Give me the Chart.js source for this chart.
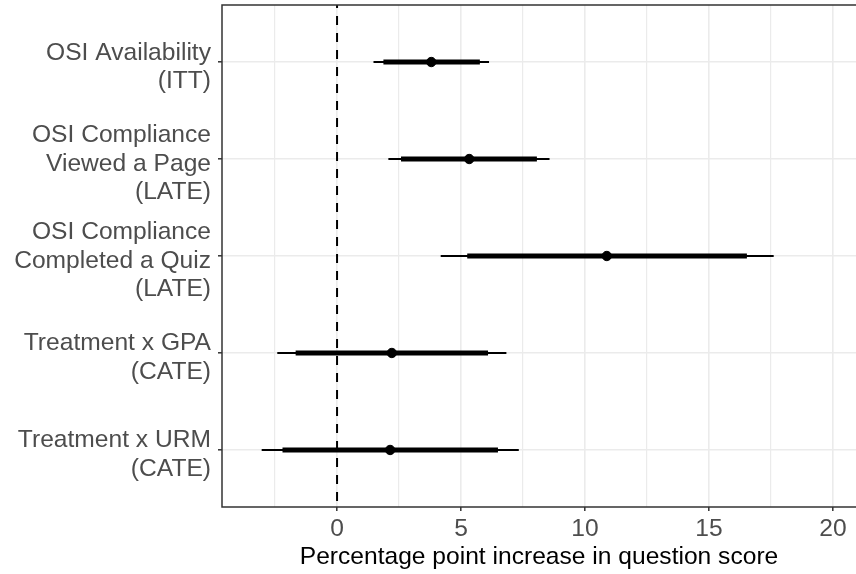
<!DOCTYPE html>
<html>
<head>
<meta charset="utf-8">
<script src="https://cdn.jsdelivr.net/npm/chart.js@4.4.1/dist/chart.umd.min.js"></script>
<style>
  html, body { margin: 0; padding: 0; background: #fff; }
  #wrap { width: 856px; height: 574px; }
</style>
</head>
<body>
<div id="wrap"><canvas id="myChart"></canvas></div>
<script>
// righe del grafico (dall'alto in basso)
const etichette = [
  ["OSI Availability", "(ITT)"],
  ["OSI Compliance", "Viewed a Page", "(LATE)"],
  ["OSI Compliance", "Completed a Quiz", "(LATE)"],
  ["Treatment x GPA", "(CATE)"],
  ["Treatment x URM", "(CATE)"],
];
const stima = [3.80, 5.33, 10.88, 2.21, 2.14];
const internoMin = [1.87, 2.58, 5.25, -1.67, -2.20];
const internoMax = [5.76, 8.06, 16.53, 6.09, 6.49];
const esternoMin = [1.47, 2.07, 4.18, -2.41, -3.04];
const esternoMax = [6.13, 8.57, 17.61, 6.83, 7.33];
const tickX = [-2.5, 0, 2.5, 5, 7.5, 10, 12.5, 15, 17.5, 20];
const etichetteX = [0, 5, 10, 15, 20];

const font = "'Liberation Sans', Arial, Helvetica, sans-serif";

// segmenti orizzontali, separati da un punto vuoto
function segmenti(min, max) {
  return min.flatMap((lo, i) => [
    { x: lo, y: i + 1 },
    { x: max[i], y: i + 1 },
    { x: NaN, y: NaN },
  ]);
}

const punti = stima.map((v, i) => ({ x: v, y: i + 1 }));

// bordo del pannello (sopra, sinistra, sotto)
const bordoPannello = {
  id: "bordoPannello",
  afterDraw(chart) {
    const { ctx, chartArea: a } = chart;
    ctx.save();
    ctx.strokeStyle = "#333333";
    ctx.lineWidth = 1.5;
    ctx.beginPath();
    ctx.moveTo(a.right + 2, a.top);
    ctx.lineTo(a.left, a.top);
    ctx.lineTo(a.left, a.bottom);
    ctx.lineTo(a.right + 2, a.bottom);
    ctx.stroke();
    ctx.restore();
  },
};

const config = {
  type: "scatter",
  data: {
    datasets: [
      {
        data: punti,
        backgroundColor: "#000000",
        borderColor: "#000000",
        pointRadius: 4.7,
        order: 0,
      },
      {
        data: segmenti(internoMin, internoMax),
        showLine: true,
        spanGaps: false,
        borderColor: "#000000",
        borderWidth: 5,
        borderCapStyle: "butt",
        pointRadius: 0,
        order: 1,
      },
      {
        data: segmenti(esternoMin, esternoMax),
        showLine: true,
        spanGaps: false,
        borderColor: "#000000",
        borderWidth: 2,
        borderCapStyle: "butt",
        pointRadius: 0,
        order: 2,
      },
      {
        // linea tratteggiata sullo zero
        data: [{ x: 0, y: 0 }, { x: 0, y: 6 }],
        showLine: true,
        borderColor: "#000000",
        borderWidth: 2,
        borderDash: [9, 8],
        pointRadius: 0,
        order: 3,
      },
    ],
  },
  options: {
    responsive: true,
    maintainAspectRatio: false,
    animation: false,
    layout: {
      autoPadding: false,
      padding: { top: 5, right: 0, left: 0, bottom: 0 },
    },
    plugins: {
      legend: { display: false },
      tooltip: { enabled: false },
    },
    scales: {
      x: {
        type: "linear",
        min: -4.64,
        max: 20.93,
        afterBuildTicks: (axis) => {
          axis.ticks = tickX.map((v) => ({ value: v }));
        },
        afterFit: (axis) => {
          axis.height = 67;
          axis.paddingLeft = 0;
          axis.paddingRight = 0;
        },
        border: { display: false },
        grid: {
          color: "#EBEBEB",
          lineWidth: (c) => (etichetteX.includes(c.tick.value) ? 1.6 : 1.2),
          tickColor: (c) =>
            etichetteX.includes(c.tick.value) ? "#333333" : "rgba(0,0,0,0)",
          tickLength: 4,
          tickWidth: 1.5,
        },
        ticks: {
          color: "#4D4D4D",
          font: { family: font, size: 24.6 },
          padding: 3,
          maxRotation: 0,
          autoSkip: false,
          callback: (v) => (etichetteX.includes(v) ? String(v) : ""),
        },
        title: {
          display: true,
          text: "Percentage point increase in question score",
          color: "#000000",
          font: { family: font, size: 24.6 },
          padding: { top: 0, bottom: 2 },
        },
      },
      y: {
        type: "linear",
        reverse: true,
        min: 0.412,
        max: 5.588,
        afterBuildTicks: (axis) => {
          axis.ticks = etichette.map((l, i) => ({ value: i + 1 }));
        },
        afterFit: (axis) => {
          axis.width = 222;
          axis.paddingTop = 0;
          axis.paddingBottom = 0;
        },
        border: { display: false },
        grid: {
          color: "#EBEBEB",
          lineWidth: 1.6,
          tickColor: "#333333",
          tickLength: 4,
          tickWidth: 1.5,
        },
        ticks: {
          color: "#4D4D4D",
          font: { family: font, size: 24.6, lineHeight: 1.16 },
          padding: 7,
          labelOffset: 5,
          autoSkip: false,
          callback: (v) => etichette[v - 1],
        },
      },
    },
  },
  plugins: [bordoPannello],
};

const myChart = new Chart(document.getElementById("myChart"), config);
</script>
</body>
</html>
